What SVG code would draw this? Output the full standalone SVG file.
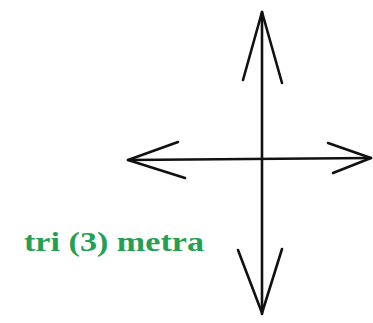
<svg xmlns="http://www.w3.org/2000/svg" width="373" height="323" viewBox="0 0 373 323">
<style>
.ln{stroke:#111;stroke-width:2.6;fill:none;stroke-linecap:round;stroke-linejoin:round}
.lbl{font-family:"Liberation Serif","Times New Roman",serif;font-weight:bold;font-size:28px;fill:#23a055}
</style>
<rect width="373" height="323" fill="#fff"/>
<g id="connectors">
<line class="ln" x1="262" y1="12" x2="262" y2="314"/>
<line class="ln" x1="128" y1="160" x2="371" y2="158"/>
<polyline class="ln" points="243,80 262,12 282,83"/>
<polyline class="ln" points="238,250 262,313 282,249"/>
<polyline class="ln" points="178,142 128,160 185,178"/>
<polyline class="ln" points="328,143 371,158 333,173"/>
</g>
<g id="label">
<text class="lbl" x="24" y="251" textLength="180" lengthAdjust="spacingAndGlyphs">tri (3) metra</text>
</g>
</svg>
